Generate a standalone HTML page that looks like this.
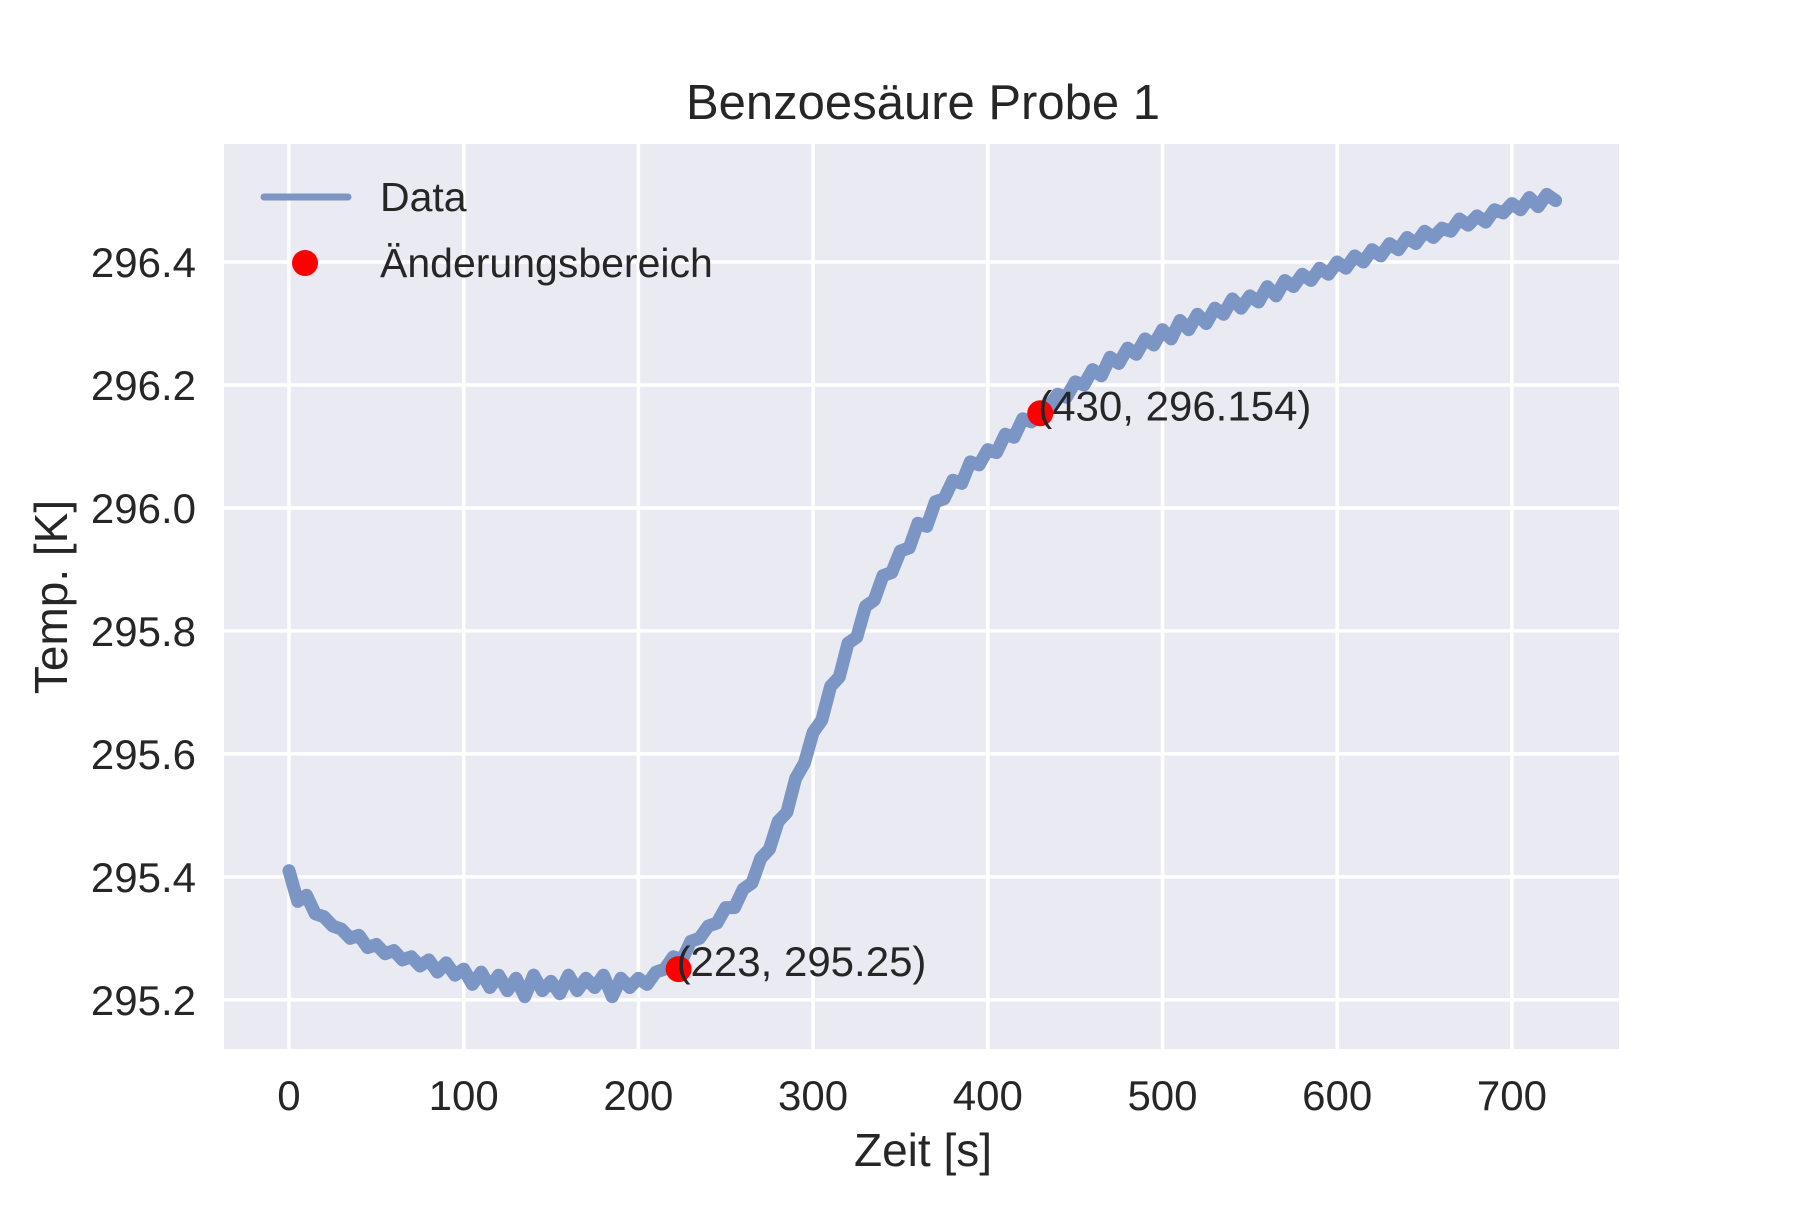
<!DOCTYPE html>
<html><head><meta charset="utf-8"><style>
body{margin:0;background:#fff}
svg text{font-family:"Liberation Sans",sans-serif;fill:#262626}
</style></head><body>
<svg id="chart" width="1800" height="1200" viewBox="0 0 1800 1200" xmlns="http://www.w3.org/2000/svg">
<rect x="224" y="144" width="1395" height="905" fill="#eaeaf2"/>
<g id="grid"></g>
<g id="series"></g>
<g id="ticks"></g>
<text x="923" y="119" font-size="49" text-anchor="middle">Benzoesäure Probe 1</text>
<text x="923" y="1166" font-size="46" text-anchor="middle">Zeit [s]</text>
<text transform="translate(67,597) rotate(-90)" font-size="46" text-anchor="middle">Temp. [K]</text>
<g>
<line x1="264" y1="197" x2="348" y2="197" stroke="#7b96c5" stroke-width="7" stroke-linecap="round"/>
<text x="380" y="211" font-size="41">Data</text>
<circle cx="305" cy="263" r="13" fill="#ff0000"/>
<text x="380" y="277" font-size="41">Änderungsbereich</text>
</g>
</svg>
<script>
const xTicks=[0,100,200,300,400,500,600,700];
const yTicks=[295.2,295.4,295.6,295.8,296.0,296.2,296.4];
const yTickLabels=["295.2","295.4","295.6","295.8","296.0","296.2","296.4"];
const tStart=0, tStep=5;
const temps=[
295.41,295.36,295.37,295.34,295.335,295.32,295.315,295.30,295.305,295.285,
295.29,295.275,295.28,295.265,295.27,295.255,295.265,295.245,295.26,295.24,
295.25,295.225,295.245,295.22,295.24,295.215,295.235,295.205,295.24,295.215,
295.23,295.21,295.24,295.215,295.235,295.22,295.24,295.205,295.235,295.22,
295.235,295.225,295.245,295.25,295.27,295.265,295.295,295.30,295.32,295.325,
295.35,295.35,295.38,295.39,295.43,295.445,295.49,295.505,295.56,295.585,
295.635,295.655,295.71,295.725,295.78,295.79,295.84,295.85,295.89,295.895,
295.93,295.935,295.975,295.97,296.01,296.015,296.045,296.04,296.075,296.07,
296.095,296.09,296.12,296.115,296.145,296.14,296.16,296.165,296.185,296.18,
296.205,296.2,296.225,296.215,296.245,296.235,296.26,296.25,296.275,296.265,
296.29,296.275,296.305,296.29,296.315,296.3,296.325,296.315,296.34,296.325,
296.345,296.335,296.36,296.345,296.37,296.36,296.38,296.37,296.39,296.38,
296.4,296.39,296.41,296.4,296.42,296.41,296.43,296.42,296.44,296.43,
296.45,296.44,296.455,296.45,296.47,296.46,296.475,296.465,296.485,296.48,
296.495,296.485,296.505,296.49,296.51,296.5];
const pointsX=[223,430];
const pointsY=[295.25,296.154];
const pointLabels=["(223, 295.25)","(430, 296.154)"];

const NS="http://www.w3.org/2000/svg";
const L=224,R=1619,T=144,B=1049;
const xMin=-37.2,xMax=761.3,yMin=295.120,yMax=296.592;
function xs(v){return L+(v-xMin)/(xMax-xMin)*(R-L);}
function ys(v){return B-(v-yMin)/(yMax-yMin)*(B-T);}
function mk(tag,attrs,parent){const e=document.createElementNS(NS,tag);for(const k in attrs)e.setAttribute(k,attrs[k]);parent.appendChild(e);return e;}
const grid=document.getElementById('grid'),ticks=document.getElementById('ticks'),series=document.getElementById('series');
xTicks.forEach(v=>{
 const g=mk('line',{x1:xs(v),x2:xs(v),y1:T,y2:B,stroke:'#fff','stroke-width':3.5},grid);
 
 
 const t=mk('text',{x:xs(v),y:1110,'font-size':42,'text-anchor':'middle'},ticks);
 
 
 t.textContent=v;
});
yTicks.forEach((v,i)=>{
 const g=mk('line',{x1:L,x2:R,y1:ys(v),y2:ys(v),stroke:'#fff','stroke-width':3.5},grid);
 
 
 const t=mk('text',{x:196,y:ys(v)+15,'font-size':42,'text-anchor':'end'},ticks);
 
 
 t.textContent=yTickLabels[i];
});
const pts=temps.map((v,i)=>xs(tStart+i*tStep).toFixed(1)+','+ys(v).toFixed(1)).join(' ');
const line=mk('polyline',{points:pts,fill:'none',stroke:'#7b96c5','stroke-width':13,'stroke-linejoin':'round','stroke-linecap':'round'},series);


pointsX.forEach((x,i)=>{
 const c=mk('circle',{cx:xs(x),cy:ys(pointsY[i]),r:13,fill:'#ff0000'},series);
 
 
 const t=mk('text',{x:xs(x)-2,y:ys(pointsY[i])+7,'font-size':42},series);
 
 
 t.textContent=pointLabels[i];
});
</script>
</body></html>
